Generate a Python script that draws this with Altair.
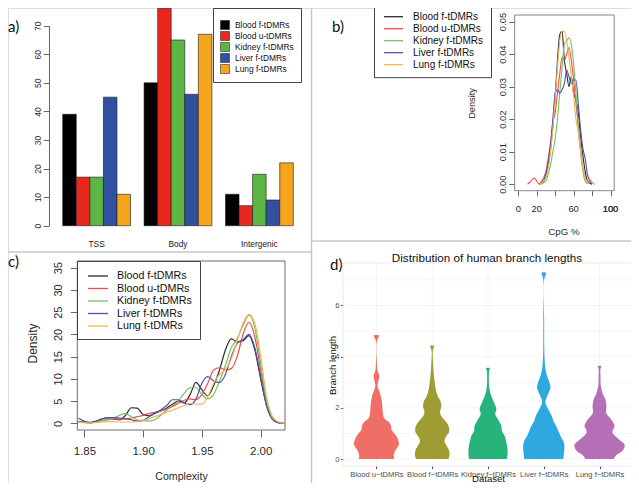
import json
import altair as alt
import pandas as pd

W, H = 623, 475
FONT = "Liberation Sans"
TAG_FONT = "Lato"

# ---------------- shared ----------------
series_names = ["Blood f-tDMRs", "Blood u-tDMRs", "Kidney f-tDMRs", "Liver f-tDMRs", "Lung f-tDMRs"]
bar_colors = ["#000000", "#E8281E", "#5CB646", "#3150A0", "#F5A51D"]
line_colors = ["#2B2B2B", "#EE4B55", "#76C25C", "#4B55AE", "#F5B356"]

# ---------------- a) region counts ----------------
a_regions = ["TSS", "Body", "Intergenic"]
a_blood_f = [39, 50, 11]
a_blood_u = [17, 76, 7]
a_kidney_f = [17, 65, 18]
a_liver_f = [45, 46, 9]
a_lung_f = [11, 67, 22]
a_ticks = [0, 10, 20, 30, 40, 50, 60, 70]

# ---------------- b) CpG % densities ----------------
b_cpg = [10, 12.5, 15, 17.5, 20, 22.5, 25, 27.5, 30, 32.5, 35, 37.5, 40, 42.5, 45, 47.5,
         50, 52.5, 55, 57.5, 60, 62.5, 65, 67.5, 70, 72.5, 75, 77.5, 80, 82.5, 85]
b_blood_f = [None, None, None, None, None, 0.0, 0.0003, 0.001, 0.003, 0.006, 0.011, 0.018, 0.027, 0.038,
             0.046, 0.047, 0.038, 0.034, 0.030, 0.033, 0.028, 0.026, 0.022, 0.015, 0.009, 0.004, 0.001,
             0.0003, 0.0, None, None]
b_blood_u = [0.0, 0.0006, 0.0014, 0.0019, 0.0009, 0.0001, 0.0008, 0.002, 0.004, 0.008, 0.013, 0.019, 0.022,
             0.028, 0.034, 0.039, 0.038, 0.040, 0.042, 0.038, 0.032, 0.025, 0.018, 0.011, 0.005, 0.002,
             0.0008, 0.0015, 0.0005, 0.0, None]
b_kidney_f = [None, None, None, None, None, None, 0.0, 0.0005, 0.001, 0.003, 0.006, 0.010, 0.014, 0.020,
              0.028, 0.036, 0.043, 0.044, 0.045, 0.043, 0.037, 0.028, 0.018, 0.010, 0.004, 0.001, 0.0003,
              0.0005, 0.0, None, None]
b_liver_f = [None, None, None, None, None, 0.0, 0.0003, 0.001, 0.003, 0.007, 0.012, 0.020, 0.028, 0.029,
             0.028, 0.029, 0.031, 0.035, 0.033, 0.031, 0.032, 0.032, 0.025, 0.017, 0.011, 0.008, 0.003,
             0.001, 0.0, None, None]
b_lung_f = [None, None, None, None, None, 0.0, 0.0002, 0.001, 0.002, 0.005, 0.010, 0.017, 0.026, 0.036,
            0.044, 0.047, 0.047, 0.044, 0.039, 0.033, 0.027, 0.020, 0.016, 0.010, 0.005, 0.002, 0.001,
            0.0015, 0.0005, 0.0, None]
b_xticks = [0, 20, 40, 60, 80, 100]
b_xlabels = [0, 20, 60, 100]
b_yticks = [0.0, 0.01, 0.02, 0.03, 0.04, 0.05]

# ---------------- c) complexity densities ----------------
c_complexity = [1.845, 1.85, 1.855, 1.86, 1.865, 1.87, 1.875, 1.88, 1.885, 1.89, 1.895, 1.9, 1.905, 1.91,
                1.915, 1.92, 1.925, 1.93, 1.935, 1.94, 1.945, 1.95, 1.955, 1.96, 1.965, 1.97, 1.975, 1.98,
                1.985, 1.99, 1.995, 2.0, 2.005, 2.01, 2.015, 2.02]
c_blood_f = [0.4, 0.3, 0.2, 0.5, 1.0, 1.2, 1.0, 0.8, 1.8, 3.5, 3.4, 2.0, 1.7, 2.2, 2.8, 3.4, 4.3, 5.0,
             4.6, 6.5, 9.2, 7.5, 6.2, 8.5, 12.0, 16.5, 19.0, 18.3, 18.6, 19.7, 16.5, 10.0, 4.0, 1.0, 0.15, 0.0]
c_blood_u = [0.5, 0.2, 0.1, 0.3, 0.6, 0.8, 1.0, 1.0, 1.0, 1.2, 1.5, 1.8, 2.2, 2.5, 2.8, 3.2, 3.8, 4.5,
             5.2, 5.5, 5.3, 6.5, 9.0, 12.0, 12.5, 12.0, 12.3, 15.0, 20.0, 22.7, 19.5, 12.0, 4.5, 1.1, 0.2, 0.0]
c_kidney_f = [0.2, 0.2, 0.1, 0.3, 0.6, 0.9, 1.2, 1.8, 2.2, 1.5, 0.8, 0.6, 0.5, 0.8, 1.8, 3.0, 4.0, 5.0,
              6.8, 8.0, 8.0, 6.5, 5.5, 6.5, 9.5, 13.0, 17.0, 19.0, 22.0, 24.3, 21.5, 13.5, 5.0, 1.2, 0.2, 0.0]
c_liver_f = [1.2, 0.5, 0.1, 0.4, 1.0, 1.3, 1.3, 1.2, 1.0, 0.8, 0.5, 0.7, 1.5, 2.3, 3.0, 4.0, 5.3, 5.3,
             4.6, 4.2, 5.5, 9.0, 10.5, 9.5, 9.2, 11.0, 15.0, 18.0, 18.8, 20.0, 17.0, 10.5, 4.0, 0.9, 0.1, 0.0]
c_lung_f = [0.3, 0.1, 0.1, 0.2, 0.3, 0.4, 0.4, 0.3, 0.3, 0.3, 0.4, 0.6, 1.0, 1.5, 2.0, 2.5, 3.0, 3.5,
            4.0, 4.5, 4.3, 4.3, 6.0, 9.0, 11.0, 12.0, 14.5, 18.5, 22.5, 24.5, 22.5, 15.0, 6.0, 1.5, 0.3, 0.0]
c_xticks = [1.85, 1.90, 1.95, 2.00]
c_yticks = [0, 5, 10, 15, 20, 25, 30, 35]

# ---------------- d) violin profiles (branch length, half width) ----------------
d_datasets = ["Blood u\u2212tDMRs", "Blood f\u2212tDMRs", "Kidney f\u2212tDMRs", "Liver f\u2212tDMRs", "Lung f\u2212tDMRs"]
violin_colors = ["#EF6F67", "#A09C34", "#27B47C", "#2DA8E0", "#B56FB6"]
d_blood_u_y = [0.0, 0.14, 0.3, 0.55, 0.75, 0.95, 1.15, 1.3, 1.45, 1.6, 1.8, 2.1, 2.4, 2.65, 2.85, 3.0,
               3.25, 3.45, 3.7, 4.6, 4.72, 4.83]
d_blood_u_w = [0.32, 0.31, 0.33, 0.40, 0.39, 0.34, 0.27, 0.26, 0.22, 0.14, 0.115, 0.105, 0.085, 0.05,
               0.02, 0.03, 0.05, 0.02, 0.01, 0.008, 0.03, 0.045]
d_blood_f_y = [0.0, 0.15, 0.35, 0.55, 0.7, 0.85, 1.05, 1.25, 1.45, 1.65, 1.85, 2.05, 2.25, 2.45, 2.7,
               3.0, 3.4, 3.8, 4.2, 4.33, 4.42]
d_blood_f_w = [0.29, 0.31, 0.30, 0.25, 0.22, 0.24, 0.30, 0.30, 0.25, 0.17, 0.14, 0.165, 0.15, 0.10,
               0.065, 0.045, 0.025, 0.015, 0.01, 0.025, 0.035]
d_kidney_y = [0.0, 0.2, 0.4, 0.65, 0.9, 1.1, 1.3, 1.55, 1.75, 1.95, 2.2, 2.45, 2.7, 2.9, 3.2, 3.45, 3.55]
d_kidney_w = [0.34, 0.35, 0.35, 0.33, 0.30, 0.25, 0.24, 0.18, 0.13, 0.15, 0.11, 0.06, 0.03, 0.018,
              0.015, 0.02, 0.035]
d_liver_y = [0.0, 0.2, 0.4, 0.65, 0.9, 1.1, 1.3, 1.5, 1.7, 1.95, 2.2, 2.4, 2.6, 2.8, 3.0, 3.3, 3.6,
             3.9, 4.3, 5.5, 7.0, 7.15, 7.28]
d_liver_w = [0.35, 0.36, 0.37, 0.36, 0.30, 0.26, 0.22, 0.17, 0.14, 0.08, 0.03, 0.05, 0.09, 0.12, 0.10,
             0.05, 0.025, 0.015, 0.009, 0.007, 0.007, 0.025, 0.04]
d_lung_y = [0.0, 0.15, 0.35, 0.55, 0.8, 1.05, 1.3, 1.55, 1.8, 2.05, 2.3, 2.6, 2.9, 3.2, 3.5, 3.58, 3.63]
d_lung_w = [0.25, 0.30, 0.42, 0.45, 0.33, 0.23, 0.27, 0.21, 0.12, 0.125, 0.11, 0.05, 0.02, 0.018,
            0.015, 0.025, 0.035]
d_yticks = [0, 2, 4, 6]
d_ygrid = [0, 1, 2, 3, 4, 5, 6, 7]
d_xgrid = [1, 2, 3, 4, 5]

# ---------------- tables ----------------
a_counts = [a_blood_f, a_blood_u, a_kidney_f, a_liver_f, a_lung_f]
a_df = pd.DataFrame([{"region": r, "series": s, "count": v}
                     for s, vals in zip(series_names, a_counts) for r, v in zip(a_regions, vals)])

b_curves = [b_blood_f, b_blood_u, b_kidney_f, b_liver_f, b_lung_f]
b_df = pd.DataFrame([{"cpg": x, "density": y, "series": s}
                     for s, ys in zip(series_names, b_curves) for x, y in zip(b_cpg, ys) if y is not None])

c_curves = [c_blood_f, c_blood_u, c_kidney_f, c_liver_f, c_lung_f]
c_df = pd.DataFrame([{"complexity": x, "density": y, "series": s}
                     for s, ys in zip(series_names, c_curves) for x, y in zip(c_complexity, ys)])

# violin outline: up the left side, then down the right side
d_profiles = [(d_blood_u_y, d_blood_u_w), (d_blood_f_y, d_blood_f_w), (d_kidney_y, d_kidney_w),
              (d_liver_y, d_liver_w), (d_lung_y, d_lung_w)]
d_rows = []
for i, (n, (ys, ws)) in enumerate(zip(d_datasets, d_profiles)):
    k = 0
    for y, w in zip(ys, ws):
        d_rows.append({"dataset": n, "pos": i + 1, "side": -1, "length": y, "half": w, "k": k})
        k += 1
    for y, w in zip(reversed(ys), reversed(ws)):
        d_rows.append({"dataset": n, "pos": i + 1, "side": 1, "length": y, "half": w, "k": k})
        k += 1
d_df = pd.DataFrame(d_rows)

one = pd.DataFrame({"k": [0]})


def ax(**kw):
    base = dict(labelFont=FONT, titleFont=FONT, grid=False, domainColor="#666", tickColor="#666",
                labelColor="#2a2a2a", titleColor="#2a2a2a", titleFontWeight="normal",
                labelOverlap=False, labelFlush=False, labelBound=False)
    base.update(kw)
    return alt.Axis(**base)


# ---------------- decorations ----------------
def vrule(x, y0, y1, color="#C8C8C8", sw=1.5):
    return alt.Chart(one).mark_rule(color=color, strokeWidth=sw).encode(
        x=alt.value(x), y=alt.value(y0), y2=alt.value(y1))


def hrule(y, x0, x1, color="#C8C8C8", sw=1.5):
    return alt.Chart(one).mark_rule(color=color, strokeWidth=sw).encode(
        y=alt.value(y), x=alt.value(x0), x2=alt.value(x1))


def box(x0, y0, x1, y1, color, sw):
    return alt.Chart(one).mark_rect(filled=False, stroke=color, strokeWidth=sw).encode(
        x=alt.value(x0), x2=alt.value(x1), y=alt.value(y0), y2=alt.value(y1))


def tag(text, x, y, size=15, font=TAG_FONT, align="left", color="#111"):
    return alt.Chart(one).mark_text(text=text, font=font, fontSize=size, align=align,
                                    baseline="middle", color=color).encode(x=alt.value(x), y=alt.value(y))


# ---------------- a) grouped bars ----------------
panel_a = alt.Chart(a_df).mark_bar(stroke="#1a1a1a", strokeWidth=0.6).encode(
    x=alt.X("region:N", sort=a_regions, title=None,
            scale=alt.Scale(domain=a_regions, range=[54.7, 285.3], paddingInner=1 / 6, paddingOuter=0),
            axis=ax(orient="bottom", offset=231.7 - H, domain=False, ticks=False, tickSize=0, labelPadding=0,
                    labelAngle=0, labelFontSize=8.4, labelColor="#222")),
    xOffset=alt.XOffset("series:N", sort=series_names,
                        scale=alt.Scale(domain=series_names, paddingInner=0, paddingOuter=0)),
    y=alt.Y("count:Q", stack=None, title=None,
            scale=alt.Scale(domain=[0, 70], range=[217.7, 17.7], nice=False),
            axis=ax(orient="left", offset=-41, values=a_ticks, tickSize=5.7, labelPadding=0.5, labelAngle=270,
                    labelAlign="center", labelBaseline="bottom", labelFontSize=8.5)),
    color=alt.Color("series:N", sort=series_names,
                    scale=alt.Scale(domain=series_names, range=bar_colors),
                    legend=alt.Legend(orient="none", legendX=205, legendY=0, direction="vertical",
                                      title=" ", titleFontSize=4, titlePadding=1, padding=7,
                                      strokeColor="#444", fillColor="white",
                                      symbolType="square", symbolSize=81, symbolStrokeColor="#111",
                                      symbolStrokeWidth=0.5, symbolOffset=0, labelOffset=5,
                                      labelFontSize=8.4, labelFont=FONT, labelColor="#111", rowPadding=-2)),
)

# ---------------- b) CpG densities ----------------
b_xdomain = [-4, 104]
b_xrange = [506.6, 606.2]
panel_b = alt.Chart(b_df).mark_line(interpolate="monotone", strokeWidth=1.1).encode(
    x=alt.X("cpg:Q", title="CpG %",
            scale=alt.Scale(domain=b_xdomain, range=b_xrange, nice=False, zero=False),
            axis=ax(orient="bottom", offset=182.7 - H, values=b_xticks, domain=False, tickSize=5,
                    labels=False, titleFontSize=9.8, titleX=555.5, titleY=41,
                    titleBaseline="middle", titleAlign="center")),
    y=alt.Y("density:Q", title="Density",
            scale=alt.Scale(domain=[-0.002, 0.052], range=[182.7, 7], nice=False, zero=False),
            axis=ax(orient="left", offset=-506.6, values=b_yticks, format=".2f", domain=False, tickSize=5.7,
                    labelPadding=1.6, labelAngle=270, labelAlign="center", labelBaseline="bottom",
                    labelFontSize=9.4, titleFontSize=9.2, titleX=-42.6, titleY=95, titleAngle=270,
                    titleBaseline="middle", titleAlign="center")),
    color=alt.Color("series:N", sort=series_names,
                    scale=alt.Scale(domain=series_names, range=line_colors),
                    legend=alt.Legend(orient="none", legendX=366, legendY=-4.8, direction="vertical",
                                      title=None, padding=7.5, strokeColor="#444",
                                      fillColor="white", symbolType="M-1.9,0H1.9", symbolSize=100,
                                      symbolStrokeWidth=1.3, symbolOffset=6, labelOffset=13.5,
                                      labelFontSize=10, labelFont=FONT, labelColor="#111", rowPadding=1.0)),
)
# tick labels of the b) x axis, placed through the same scale (R drops 40 and 80)
b_tick_labels = alt.Chart(pd.DataFrame({"t": b_xlabels})).mark_text(
    font=FONT, fontSize=9.4, color="#2a2a2a", baseline="middle", align="center"
).encode(
    x=alt.X("t:Q", scale=alt.Scale(domain=b_xdomain, range=b_xrange, nice=False, zero=False), axis=None),
    y=alt.value(201),
    text=alt.Text("t:Q", format="d"),
)

# ---------------- c) complexity densities ----------------
panel_c = alt.Chart(c_df).mark_line(interpolate="monotone", strokeWidth=1.2).encode(
    x=alt.X("complexity:Q", title="Complexity",
            scale=alt.Scale(domain=[1.844, 2.0207], range=[69.3, 277], nice=False, zero=False),
            axis=ax(orient="bottom", offset=422 - H, values=c_xticks, format=".2f", domain=False, tickSize=7,
                    labelPadding=8, labelFontSize=11.5, titleFontSize=10.6, titleX=173, titleY=46.7,
                    titleBaseline="middle", titleAlign="center")),
    y=alt.Y("density:Q", title="Density",
            scale=alt.Scale(domain=[-1.5, 36.5], range=[422, 253], nice=False, zero=False),
            axis=ax(orient="left", offset=-69.3, values=c_yticks, domain=False, tickSize=7, labelPadding=7,
                    labelAngle=270, labelAlign="center", labelBaseline="bottom", labelFontSize=11,
                    titleFontSize=12, titleX=-45.3, titleY=335, titleAngle=270, titleBaseline="middle",
                    titleAlign="center")),
    color=alt.Color("series:N", sort=series_names,
                    scale=alt.Scale(domain=series_names, range=line_colors),
                    legend=alt.Legend(orient="none", legendX=69, legendY=253, direction="vertical",
                                      title=None, padding=8, strokeColor="#444",
                                      fillColor="white", symbolType="M-1.667,0H1.667", symbolSize=144,
                                      symbolStrokeWidth=1.3, symbolOffset=6, labelOffset=12,
                                      labelFontSize=10.7, labelFont=FONT, labelColor="#111", rowPadding=0.5)),
)

# ---------------- d) violins ----------------
d_xdomain, d_xrange = [0.4, 5.6], [335, 625]
d_ydomain, d_yrange = [-0.27, 7.66], [458, 255]
label_js = json.dumps(d_datasets, ensure_ascii=False)

d_grid_h = alt.Chart(pd.DataFrame({"g": d_ygrid})).mark_rule(color="#EFEFEF", strokeWidth=0.6).encode(
    y=alt.Y("g:Q", scale=alt.Scale(domain=d_ydomain, range=d_yrange, nice=False, zero=False), axis=None),
    x=alt.value(335), x2=alt.value(625))
d_grid_v = alt.Chart(pd.DataFrame({"g": d_xgrid})).mark_rule(color="#EFEFEF", strokeWidth=0.6).encode(
    x=alt.X("g:Q", scale=alt.Scale(domain=d_xdomain, range=d_xrange, nice=False, zero=False), axis=None),
    y=alt.value(255), y2=alt.value(458))

panel_d = alt.Chart(d_df).transform_calculate(
    vx="datum.pos + datum.side * datum.half"
).mark_line(filled=True, interpolate="catmull-rom").encode(
    y=alt.Y("length:Q", title="Branch length",
            scale=alt.Scale(domain=d_ydomain, range=d_yrange, nice=False, zero=False),
            axis=ax(orient="left", offset=-335, values=d_yticks, domain=False, tickSize=2.5, labelPadding=1.5,
                    labelFontSize=7.6, labelColor="#4D4D4D", tickColor="#4D4D4D", titleFontSize=9.6,
                    titleColor="#111", titleX=-11, titleY=357, titleAngle=270, titleBaseline="middle",
                    titleAlign="center")),
    x=alt.X("vx:Q", title="Dataset",
            scale=alt.Scale(domain=d_xdomain, range=d_xrange, nice=False, zero=False),
            axis=ax(orient="bottom", offset=458 - H, values=d_xgrid, domain=False, tickSize=2.5,
                    labelPadding=2, labelExpr=label_js + "[datum.value - 1]", labelFontSize=7.6,
                    labelColor="#4D4D4D", tickColor="#4D4D4D", titleFontSize=9.6, titleColor="#111",
                    titleX=480, titleY=12.5, titleBaseline="middle", titleAlign="center")),
    order=alt.Order("k:Q"),
    detail="dataset:N",
    color=alt.Color("dataset:N", sort=d_datasets,
                    scale=alt.Scale(domain=d_datasets, range=violin_colors), legend=None),
)

layers = [
    vrule(303.5, 0, H),
    hrule(244, 0, 303.5),
    hrule(233, 303.5, W),
    d_grid_h,
    d_grid_v,
    box(335, 255, 625, 458, "#E2E2E2", 0.7),
    box(506.6, 7, 606.2, 182.7, "#7A7A7A", 0.9),
    box(69.3, 253, 277, 422, "#6A6A6A", 1.0),
    panel_a,
    panel_b,
    panel_c,
    panel_d,
    tag("a)", 0, 19),
    tag("b)", 324, 19),
    tag("c)", 0, 254),
    tag("d)", 322, 257),
    tag("Distribution of human branch lengths", 479, 250, size=11.7, font=FONT, align="center"),
    b_tick_labels,
    tag("100", 602.5, 201, size=9.4, font=FONT, align="center", color="#2a2a2a"),
]

chart = alt.layer(*layers).resolve_scale(
    x="independent", y="independent", color="independent"
).properties(
    width=W, height=H, autosize=alt.AutoSizeParams(type="none"), padding=0
).configure_view(strokeWidth=0).configure(font=FONT)

chart.save("out.html", embed_options={"renderer": "svg", "actions": False})
